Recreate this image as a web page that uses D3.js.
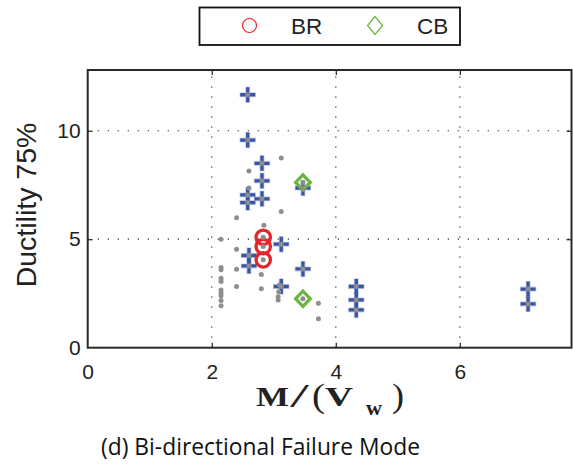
<!DOCTYPE html>
<html>
<head>
<meta charset="utf-8">
<script src="https://cdn.jsdelivr.net/npm/d3@7"></script>
<style>
  html, body { margin: 0; padding: 0; background: #fff; }
  svg { display: block; }
</style>
</head>
<body>
<svg id="chart" width="573" height="473"></svg>
<script>
// Axis ticks
const xTicks = [0, 2, 4, 6];
const yTicks = [0, 5, 10];
const xGrid = [2, 4, 6];
const yGrid = [5, 10];

// All specimens (grey background population)
const allX = [2.15, 2.15, 2.15, 2.15, 2.15, 2.15, 2.15, 2.15, 2.15, 2.15,
              2.40, 2.40, 2.40, 2.40, 2.60, 2.60, 2.80, 2.80, 2.84,
              3.12, 3.12, 3.09, 3.08, 3.07, 3.07, 3.72, 3.72];
const allY = [5.00, 3.70, 3.59, 3.20, 3.05, 2.66, 2.52, 2.39, 2.18, 1.93,
              5.99, 4.54, 3.62, 2.82, 8.15, 7.36, 3.37, 2.72, 5.64,
              8.74, 6.28, 2.89, 2.58, 2.35, 2.20, 2.05, 1.34];

// Bi-directional failure mode specimens (plus markers)
const biX = [2.58, 2.58, 2.58, 2.58, 2.60, 2.60, 2.81, 2.81, 2.81,
             3.12, 3.12, 3.47, 3.47, 4.33, 4.33, 4.33, 7.10, 7.10];
const biY = [11.66, 9.57, 7.04, 6.69, 4.25, 3.77, 8.50, 7.69, 6.86,
             4.77, 2.82, 7.36, 3.63, 2.82, 2.20, 1.74, 2.70, 2.02];

// BR specimens (circles)
const brX = [2.83, 2.83, 2.83];
const brY = [5.09, 4.66, 4.05];

// CB specimens (diamonds)
const cbX = [3.47, 3.47];
const cbY = [7.62, 2.26];

const legendLabels = ["BR", "CB"];

const svg = d3.select("#chart");
const L = 87.7, R = 571.5, T = 70, B = 347.7;

const x = d3.scaleLinear().domain([0, 7.8]).range([L, R]);
const y = d3.scaleLinear().domain([0, 12.8]).range([B, T]);

const BLUE = "#3a53a3", RED = "#e8242b", GREEN = "#6cb43f", GREY = "#8e8e8e";
const sans = "'Liberation Sans', Arial, Helvetica, sans-serif";
const serif = "'Liberation Serif', 'Times New Roman', serif";

// dotted grid
const grid = svg.append("g").attr("stroke", "#333").attr("stroke-width", 1.2)
  .attr("stroke-dasharray", "1.3,8.7");
grid.selectAll("line.gx").data(xGrid).join("line")
  .attr("x1", d => x(d)).attr("x2", d => x(d)).attr("y1", B).attr("y2", T);
grid.selectAll("line.gy").data(yGrid).join("line")
  .attr("y1", d => y(d)).attr("y2", d => y(d)).attr("x1", L).attr("x2", R);

// axes with inward ticks
function styleAxis(g, showText) {
  g.select(".domain").remove();
  g.selectAll(".tick line").attr("stroke", "#222").attr("stroke-width", 1.2);
  g.selectAll(".tick text").attr("fill", "#222").style("font-family", sans)
    .style("font-size", "21px");
  if (!showText) g.selectAll(".tick text").remove();
}
svg.append("g").attr("transform", `translate(0,${B})`)
  .call(d3.axisBottom(x).tickValues(xTicks).tickSizeInner(-5).tickSizeOuter(0).tickPadding(16).tickFormat(d3.format("d")))
  .call(g => styleAxis(g, true))
  .call(g => g.selectAll(".tick").filter(d => d === 0).select("line").remove());
svg.append("g").attr("transform", `translate(0,${T})`)
  .call(d3.axisTop(x).tickValues(xTicks.slice(1)).tickSizeInner(-5).tickSizeOuter(0))
  .call(g => styleAxis(g, false));
svg.append("g").attr("transform", `translate(${L},0)`)
  .call(d3.axisLeft(y).tickValues(yTicks).tickSizeInner(-5).tickSizeOuter(0).tickPadding(7).tickFormat(d3.format("d")))
  .call(g => styleAxis(g, true))
  .call(g => g.selectAll(".tick").filter(d => d === 0).select("line").remove());
svg.append("g").attr("transform", `translate(${R},0)`)
  .call(d3.axisRight(y).tickValues(yTicks.slice(1)).tickSizeInner(-5).tickSizeOuter(0))
  .call(g => styleAxis(g, false));

// plot box
svg.append("rect").attr("x", L).attr("y", T).attr("width", R - L).attr("height", B - T)
  .attr("fill", "none").attr("stroke", "#2a2a2a").attr("stroke-width", 2);

// marker shapes
const plusPath = (h) => `M${-h},0H${h}M0,${-h}V${h}`;
const diamondPath = (w, h) => `M0,${-h}L${w},0L0,${h}L${-w},0Z`;

const bi = d3.zip(biX, biY), br = d3.zip(brX, brY), cb = d3.zip(cbX, cbY);

// plus markers, with a soft fringe
const plusG = svg.append("g");
plusG.selectAll("path.halo").data(bi).join("path")
  .attr("transform", d => `translate(${x(d[0])},${y(d[1])})`)
  .attr("d", plusPath(8.2)).attr("stroke", "#9fb0de").attr("stroke-width", 5)
  .attr("fill", "none").attr("opacity", 0.6);
plusG.selectAll("path.mark").data(bi).join("path")
  .attr("transform", d => `translate(${x(d[0])},${y(d[1])})`)
  .attr("d", plusPath(7.5)).attr("stroke", BLUE).attr("stroke-width", 3.3).attr("fill", "none");

svg.append("g").selectAll("circle").data(br).join("circle")
  .attr("cx", d => x(d[0])).attr("cy", d => y(d[1])).attr("r", 7.2)
  .attr("fill", "none").attr("stroke", RED).attr("stroke-width", 3.3);

svg.append("g").selectAll("path").data(cb).join("path")
  .attr("transform", d => `translate(${x(d[0])},${y(d[1])})`)
  .attr("d", diamondPath(7.3, 7.6)).attr("fill", "none").attr("stroke", GREEN)
  .attr("stroke-width", 3.3).attr("stroke-linejoin", "miter");

// grey population dots on top (every specimen)
const greyPts = d3.zip(allX, allY).concat(bi, br, cb);
svg.append("g").selectAll("circle").data(greyPts).join("circle")
  .attr("cx", d => x(d[0])).attr("cy", d => y(d[1])).attr("r", 2.5)
  .attr("fill", GREY);

// y label
svg.append("text").attr("transform", "translate(36,205) rotate(-90)")
  .attr("text-anchor", "middle").style("font-family", sans).style("font-size", "28.5px")
  .attr("fill", "#222").text("Ductility 75%");

// x label  M/(V  w), set glyph by glyph in a wide bold serif
const xLabelParts = [
  { t: "M", x: 256, y: 406, size: 28, w: 33, bold: true },
  { t: "/", x: 290, y: 407, size: 33, w: 19, bold: false },
  { t: "(", x: 312, y: 407, size: 33, w: 13, bold: false },
  { t: "V", x: 325, y: 406, size: 28, w: 28, bold: true },
  { t: "w", x: 366, y: 415, size: 20, w: 16, bold: true },
  { t: ")", x: 392, y: 407, size: 33, w: 12, bold: false }
];
svg.append("g").selectAll("text").data(xLabelParts).join("text")
  .attr("x", d => d.x).attr("y", d => d.y)
  .attr("textLength", d => d.w).attr("lengthAdjust", "spacingAndGlyphs")
  .style("font-family", serif).style("font-size", d => d.size + "px")
  .style("font-weight", d => d.bold ? "bold" : "normal")
  .attr("fill", "#222").text(d => d.t);

// caption, sized to span its line
const cap = svg.append("text").attr("x", 101).attr("y", 455)
  .style("font-family", "'Open Sans', Lato, sans-serif").style("font-size", "20px")
  .attr("fill", "#111").text("(d) Bi-directional Failure Mode");
const capW = cap.node().getComputedTextLength();
cap.style("font-size", (20 * 319 / capW).toFixed(2) + "px");

// legend
const lg = svg.append("g");
lg.append("rect").attr("x", 199.5).attr("y", 7.5).attr("width", 260.5).attr("height", 37.5)
  .attr("fill", "#fff").attr("stroke", "#111").attr("stroke-width", 1.8);
lg.append("circle").attr("cx", 249.5).attr("cy", 25.5).attr("r", 7)
  .attr("fill", "none").attr("stroke", RED).attr("stroke-width", 1.2);
lg.append("path").attr("transform", "translate(375,25.5)").attr("d", diamondPath(7.5, 9))
  .attr("fill", "none").attr("stroke", GREEN).attr("stroke-width", 1.2);
lg.selectAll("text.lab").data(legendLabels).join("text")
  .attr("x", (d, i) => i === 0 ? 291 : 417).attr("y", 33.5)
  .style("font-family", sans).style("font-size", "22.5px").attr("fill", "#222")
  .text(d => d);
</script>
</body>
</html>
